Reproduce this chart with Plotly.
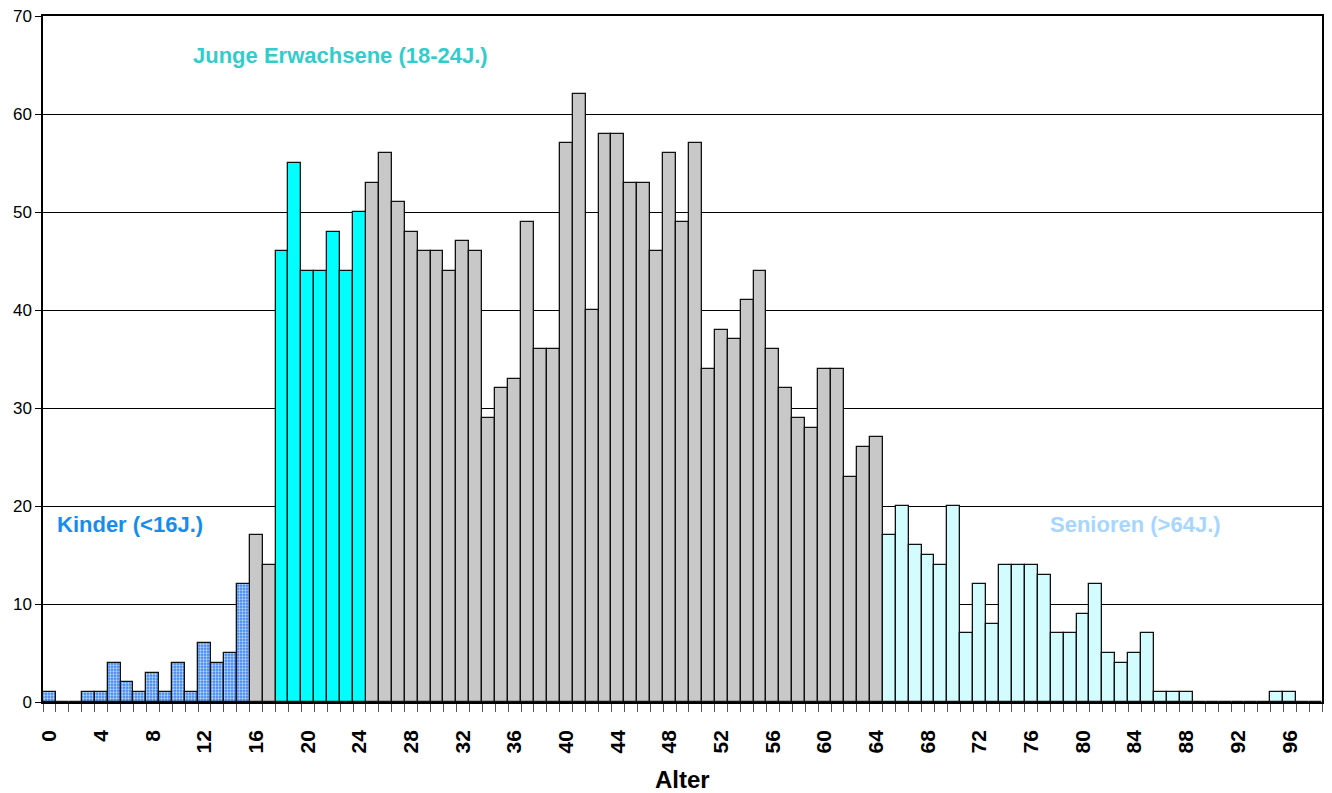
import plotly.graph_objects as go

ages = list(range(0, 99))
counts = [1, 0, 0, 1, 1, 4, 2, 1, 3, 1,
          4, 1, 6, 4, 5, 12, 17, 14, 46, 55,
          44, 44, 48, 44, 50, 53, 56, 51, 48, 46,
          46, 44, 47, 46, 29, 32, 33, 49, 36, 36,
          57, 62, 40, 58, 58, 53, 53, 46, 56, 49,
          57, 34, 38, 37, 41, 44, 36, 32, 29, 28,
          34, 34, 23, 26, 27, 17, 20, 16, 15, 14,
          20, 7, 12, 8, 14, 14, 14, 13, 7, 7,
          9, 12, 5, 4, 5, 7, 1, 1, 1, 0,
          0, 0, 0, 0, 0, 1, 1, 0, 0]
tick_labels = [str(v) for v in range(0, 97, 4)]

group_labels = ["Kinder (<16J.)", "Junge Erwachsene (18-24J.)", "Senioren (>64J.)"]

def group_of(a):
    if a < 16:
        return "kinder"
    if 18 <= a <= 24:
        return "junge"
    if a > 64:
        return "senioren"
    return "rest"

fig = go.Figure()
styles = {
    "rest": dict(color="#C8C8C8"),
    "junge": dict(color="#00FFFF"),
    "senioren": dict(color="#D2FCFF"),
    "kinder": dict(color="#4A8FF5",
                   pattern=dict(shape=".", fgcolor="#B8D6FF", bgcolor="#3F86F2",
                                size=3, solidity=0.45, fillmode="replace")),
}
for g in ["rest", "junge", "senioren", "kinder"]:
    xs = [a for a in ages if group_of(a) == g]
    ys = [counts[a] for a in ages if group_of(a) == g]
    fig.add_trace(go.Bar(x=xs, y=ys, width=1.0,
                         marker=dict(line=dict(color="#111111", width=1.3), **styles[g]),
                         showlegend=False, hoverinfo="x+y"))

font_b = "Liberation Sans, Arial, sans-serif"
fig.update_layout(
    width=1332, height=793,
    margin=dict(l=43, r=10, t=16, b=91, autoexpand=False),
    paper_bgcolor="white", plot_bgcolor="white",
    barmode="overlay", bargap=0,
    font=dict(family=font_b, color="black"),
    xaxis=dict(range=[-0.5, 98.5], tickmode="array", automargin=False,
               tickvals=list(range(0, 97, 4)), ticktext=tick_labels,
               tickangle=-90, ticks="", ticklabelstandoff=18,
               tickfont=dict(size=21, family=font_b, weight="bold"),
               showgrid=False, zeroline=False,
               showline=True, linecolor="black", linewidth=1.5, mirror=True,
               minor=dict(tick0=0.5, dtick=1, ticks="outside", ticklen=8,
                          tickcolor="#555555", tickwidth=1, showgrid=False)),
    yaxis=dict(range=[0, 70], dtick=10, ticks="outside", ticklen=6, automargin=False,
               tickcolor="black", tickfont=dict(size=17),
               showgrid=True, gridcolor="black", gridwidth=1,
               zeroline=False, showline=True, linecolor="black", linewidth=1.5,
               mirror=True),
)

fig.add_annotation(x=22.5, y=66.0, xref="x", yref="y", text="<b>" + group_labels[1] + "</b>",
                   showarrow=False, font=dict(size=22, color="#33CCCC", family=font_b))
fig.add_annotation(x=6.2, y=18.1, xref="x", yref="y", text="<b>" + group_labels[0] + "</b>",
                   showarrow=False, font=dict(size=22, color="#168CF0", family=font_b))
fig.add_annotation(x=84.1, y=18.1, xref="x", yref="y", text="<b>" + group_labels[2] + "</b>",
                   showarrow=False, font=dict(size=22, color="#A6D6FF", family=font_b))
fig.add_annotation(x=0.5, y=-0.113, xref="paper", yref="paper", text="<b>Alter</b>",
                   showarrow=False, yanchor="middle",
                   font=dict(size=24, color="black", family=font_b))

fig.write_html("out.html", config={"displayModeBar": False},
               post_script="document.body.style.margin='0';document.body.style.overflow='hidden';")
